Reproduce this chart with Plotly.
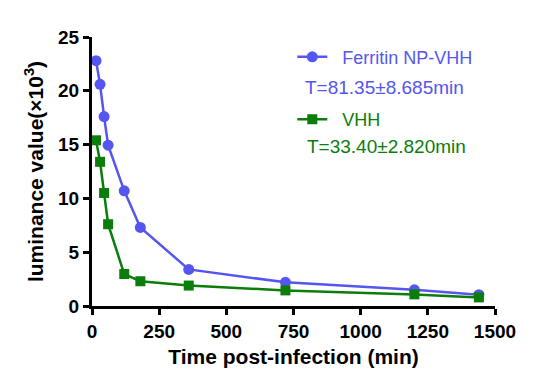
import plotly.graph_objects as go

time_min = [15, 30, 45, 60, 120, 180, 360, 720, 1200, 1440]
ferritin_vhh = [22.8, 20.6, 17.6, 14.95, 10.7, 7.3, 3.4, 2.2, 1.5, 1.05]
vhh = [15.4, 13.4, 10.5, 7.6, 2.97, 2.3, 1.9, 1.45, 1.08, 0.8]
series_names = ["Ferritin NP-VHH", "VHH"]
half_lives = ["T=81.35±8.685min", "T=33.40±2.820min"]
x_ticks = [0, 250, 500, 750, 1000, 1250, 1500]
y_ticks = [0, 5, 10, 15, 20, 25]

BLUE = "#5555F0"
GREEN = "#0B7D0B"
FONT = "Liberation Sans, Arial, sans-serif"

fig = go.Figure()
fig.add_trace(go.Scatter(
    x=time_min, y=ferritin_vhh,
    name=f"<span style='color:{BLUE}'>  {series_names[0]}</span>", mode="lines+markers",
    line=dict(color=BLUE, width=2.5), marker=dict(symbol="circle", size=11, color=BLUE),
    cliponaxis=False, legendgroup="a"))
fig.add_trace(go.Scatter(
    x=time_min, y=vhh,
    name=f"<span style='color:{GREEN}'>  {series_names[1]}</span>", mode="lines+markers",
    line=dict(color=GREEN, width=2.5), marker=dict(symbol="square", size=10, color=GREEN),
    cliponaxis=False, legendgroup="b"))

fig.add_annotation(x=0.727, y=0.812, xref="paper", yref="paper", text=half_lives[0],
                   xanchor="center", yanchor="middle",
                   showarrow=False, font=dict(family=FONT, size=19, color=BLUE))
fig.add_annotation(x=0.730, y=0.593, xref="paper", yref="paper", text=half_lives[1],
                   xanchor="center", yanchor="middle",
                   showarrow=False, font=dict(family=FONT, size=19, color=GREEN))

axis_common = dict(
    showgrid=False, zeroline=False, showline=True, linecolor="black", linewidth=3,
    ticks="outside", ticklen=6, tickwidth=2.5, tickcolor="black",
    tickfont=dict(family=FONT, size=19, color="black", weight="bold"),
)
fig.update_xaxes(range=[0, 1500], tickvals=x_ticks,
                 title=dict(text="Time post-infection (min)",
                            font=dict(family=FONT, size=21, color="black", weight="bold"),
                            standoff=9),
                 **axis_common)
fig.update_yaxes(range=[0, 25], tickvals=y_ticks,
                 title=dict(text="luminance value(×10<sup>3</sup>)",
                            font=dict(family=FONT, size=21, color="black", weight="bold"),
                            standoff=9),
                 **axis_common)

fig.update_layout(
    width=558, height=390,
    margin=dict(l=84, r=71, t=29, b=92, autoexpand=False),
    plot_bgcolor="white", paper_bgcolor="white",
    legend=dict(x=0.497, y=0.994, xanchor="left", yanchor="top",
                font=dict(family=FONT, size=18, color="black"),
                tracegroupgap=36, bgcolor="rgba(0,0,0,0)"),
)
fig.write_html("out.html")
